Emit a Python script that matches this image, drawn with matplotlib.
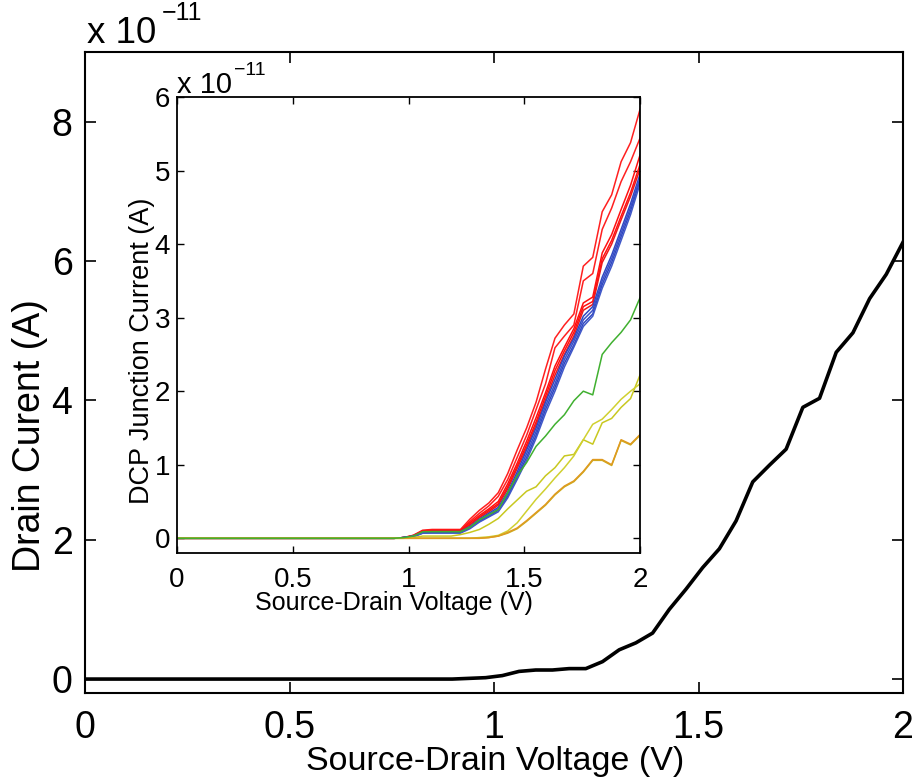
import numpy as np
import matplotlib
matplotlib.use("Agg")
import matplotlib.pyplot as plt

plt.rcParams['font.family'] = ['Liberation Sans', 'DejaVu Sans']

# Source-drain voltage sweep (V), 50 points from 0 to 2
voltage = np.linspace(0, 2, 50)

# Main curve: drain current in units of 1e-11 A
drain_current = [0.0] * 23 + [
    0.01, 0.02, 0.05, 0.11, 0.13, 0.13, 0.15, 0.15, 0.25, 0.42, 0.52, 0.66,
    1.0, 1.29, 1.6, 1.87, 2.27, 2.83, 3.07, 3.30, 3.9, 4.03, 4.69, 4.97,
    5.46, 5.81, 6.27]

# Inset curves: DCP junction currents in units of 1e-11 A (values from k=24 on)
lead = [0.0] * 24
red_1 = lead + [0.01, 0.04, 0.11, 0.12, 0.12, 0.12, 0.12, 0.26, 0.38, 0.48, 0.62, 0.88, 1.2, 1.5, 1.85, 2.3, 2.72, 2.9, 3.05, 3.7, 3.82, 4.44, 4.67, 5.12, 5.38, 5.83]
red_2 = lead + [0.01, 0.04, 0.10, 0.11, 0.11, 0.11, 0.11, 0.23, 0.34, 0.44, 0.57, 0.8, 1.1, 1.4, 1.75, 2.1, 2.59, 2.75, 2.9, 3.5, 3.6, 4.2, 4.49, 4.85, 5.12, 5.44]
red_3 = lead + [0.01, 0.03, 0.10, 0.11, 0.11, 0.11, 0.11, 0.21, 0.31, 0.40, 0.5, 0.74, 1.02, 1.32, 1.64, 1.98, 2.34, 2.6, 2.85, 3.2, 3.28, 3.88, 4.13, 4.47, 4.8, 5.21]
red_4 = lead + [0.01, 0.03, 0.10, 0.10, 0.10, 0.10, 0.10, 0.19, 0.29, 0.38, 0.47, 0.7, 0.98, 1.27, 1.58, 1.93, 2.28, 2.55, 2.8, 3.15, 3.22, 3.8, 4.05, 4.38, 4.7, 5.08]
red_5 = lead + [0.01, 0.03, 0.09, 0.10, 0.10, 0.10, 0.10, 0.18, 0.28, 0.36, 0.45, 0.67, 0.95, 1.23, 1.54, 1.88, 2.22, 2.5, 2.75, 3.1, 3.18, 3.75, 4.0, 4.33, 4.65, 5.02]
blue_1 = lead + [0.01, 0.03, 0.08, 0.09, 0.09, 0.09, 0.09, 0.16, 0.26, 0.34, 0.42, 0.63, 0.9, 1.2, 1.5, 1.85, 2.16, 2.48, 2.72, 3.02, 3.15, 3.55, 3.85, 4.2, 4.55, 4.95]
blue_2 = lead + [0.01, 0.03, 0.08, 0.08, 0.08, 0.08, 0.08, 0.15, 0.24, 0.32, 0.40, 0.6, 0.86, 1.15, 1.45, 1.8, 2.1, 2.43, 2.68, 2.97, 3.1, 3.5, 3.8, 4.15, 4.5, 4.9]
blue_3 = lead + [0.01, 0.02, 0.07, 0.08, 0.08, 0.08, 0.08, 0.14, 0.23, 0.30, 0.38, 0.57, 0.83, 1.1, 1.4, 1.75, 2.05, 2.38, 2.63, 2.92, 3.05, 3.45, 3.75, 4.1, 4.45, 4.86]
blue_4 = lead + [0.01, 0.02, 0.07, 0.07, 0.07, 0.07, 0.07, 0.13, 0.22, 0.29, 0.36, 0.55, 0.8, 1.06, 1.36, 1.7, 2.0, 2.33, 2.6, 2.88, 3.02, 3.4, 3.7, 4.05, 4.4, 4.82]
green_1 = lead + [0.01, 0.03, 0.09, 0.09, 0.09, 0.09, 0.09, 0.15, 0.25, 0.32, 0.39, 0.62, 0.85, 1.03, 1.25, 1.39, 1.55, 1.68, 1.87, 2.0, 1.95, 2.5, 2.66, 2.8, 2.97, 3.27]
yellow_1 = lead + [0.0, 0.01, 0.03, 0.03, 0.03, 0.03, 0.05, 0.08, 0.12, 0.19, 0.27, 0.4, 0.52, 0.64, 0.7, 0.85, 0.96, 1.12, 1.14, 1.34, 1.28, 1.57, 1.63, 1.78, 1.9, 2.22]
yellow_2 = lead + [0.0, 0.0, 0.0, 0.0, 0.0, 0.0, 0.0, 0.0, 0.01, 0.02, 0.04, 0.1, 0.21, 0.37, 0.53, 0.67, 0.82, 0.96, 1.12, 1.34, 1.55, 1.62, 1.75, 1.89, 2.0, 2.1]
orange_1 = lead + [0.0, 0.0, 0.0, 0.0, 0.0, 0.0, 0.0, 0.0, 0.0, 0.01, 0.03, 0.08, 0.14, 0.24, 0.35, 0.46, 0.6, 0.71, 0.78, 0.91, 1.07, 1.07, 1.0, 1.34, 1.28, 1.41]
orange_2 = lead + [0.0, 0.0, 0.0, 0.0, 0.0, 0.0, 0.0, 0.0, 0.0, 0.01, 0.03, 0.07, 0.13, 0.23, 0.34, 0.45, 0.59, 0.70, 0.77, 0.90, 1.06, 1.06, 0.99, 1.33, 1.27, 1.40]

inset_series = [
    (red_1, '#ff2020'), (red_2, '#ff2020'), (red_3, '#ff1010'), (red_4, '#ff1010'), (red_5, '#f01818'),
    (blue_1, '#3048c0'), (blue_2, '#3a50c8'), (blue_3, '#3048c0'), (blue_4, '#4058c8'),
    (yellow_1, '#c8c820'), (yellow_2, '#d0d030'),
    (orange_2, '#c8b020'), (orange_1, '#e09a20'),
    (green_1, '#40b030'),
]

xtick_vals = [0, 0.5, 1, 1.5, 2]
xtick_labels = ['0', '0.5', '1', '1.5', '2']
main_yticks = [0, 2, 4, 6, 8]
inset_yticks = [0, 1, 2, 3, 4, 5, 6]

W, H = 917, 784
fig = plt.figure(figsize=(W / 100, H / 100), dpi=100)

def frac(l, r, b, t):
    return [l / W, 1 - b / H, (r - l) / W, (b - t) / H]

def fx(px):
    return px / W

def fy(py):
    return 1 - py / H

# ---- main axes ----
ax = fig.add_axes(frac(85, 903, 693, 52))
ax.plot(voltage, drain_current, color='black', lw=2.6)
ax.set_xlim(0, 2)
ax.set_ylim(-0.2, 9)
ax.set_xticks(xtick_vals)
ax.set_xticklabels(xtick_labels)
ax.set_yticks(main_yticks)
ax.tick_params(direction='in', top=True, right=True, length=8, width=1.2,
               labelsize=27)
ax.tick_params(axis='x', pad=12)
ax.tick_params(axis='y', pad=9)
for s in ax.spines.values():
    s.set_linewidth(1.5)
fig.text(fx(495), fy(770), 'Source-Drain Voltage (V)', fontsize=24.5,
         ha='center', va='baseline')
fig.text(fx(30), fy(436), 'Drain Curent (A)', fontsize=27, rotation=90,
         ha='center', va='center')
fig.text(fx(87), fy(43), 'x 10', fontsize=26.5, ha='left', va='baseline')
fig.text(fx(162), fy(20), '\u221211', fontsize=18, ha='left', va='baseline')

# ---- inset axes ----
ins = fig.add_axes(frac(177, 640, 553, 97))
for vals, c in inset_series:
    ins.plot(voltage, vals, color=c, lw=1.1)
ins.set_xlim(0, 2)
ins.set_ylim(-0.2, 6)
ins.set_xticks(xtick_vals)
ins.set_xticklabels(xtick_labels)
ins.set_yticks(inset_yticks)
ins.tick_params(direction='in', top=True, right=True, length=5, width=1.0,
                labelsize=20)
ins.tick_params(axis='x', pad=10)
ins.tick_params(axis='y', pad=5)
for s in ins.spines.values():
    s.set_linewidth(1.3)
fig.text(fx(394), fy(610), 'Source-Drain Voltage (V)', fontsize=18,
         ha='center', va='baseline')
fig.text(fx(142), fy(351), 'DCP Junction Current (A)', fontsize=19.5,
         rotation=90, ha='center', va='center')
fig.text(fx(177), fy(93), 'x 10', fontsize=21, ha='left', va='baseline')
fig.text(fx(234), fy(75), '\u221211', fontsize=14, ha='left', va='baseline')

fig.savefig('out.png', dpi=100)
